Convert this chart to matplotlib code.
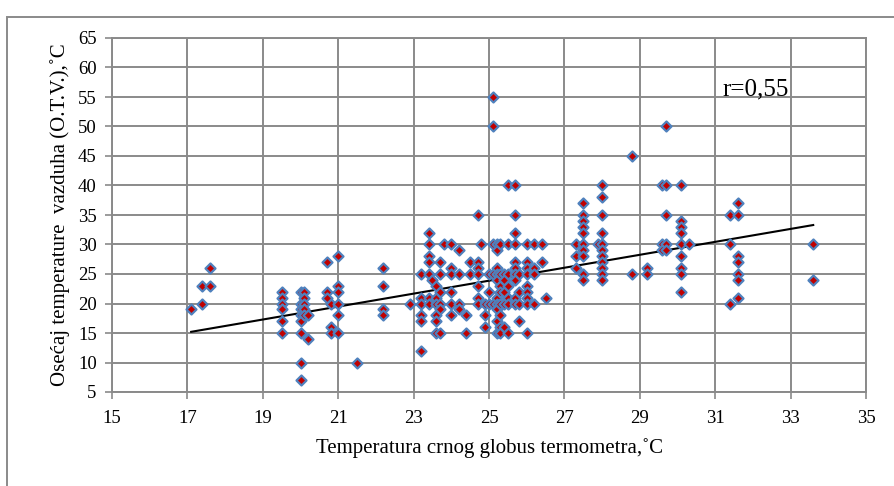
import matplotlib
matplotlib.use("Agg")
import matplotlib.pyplot as plt
from matplotlib.patches import Rectangle

plt.rcParams['font.family'] = ['Liberation Serif', 'DejaVu Serif']

# Globe thermometer temperature (x) and perceived air temperature O.T.V. (y)
globe_temp = (
    [17.1] + [17.4]*2 + [17.6]*2 + [19.5]*6 + [20.0]*8 + [20.1]*5 + [20.2]*2
    + [20.7]*3 + [20.8]*3 + [21.0]*6 + [21.5] + [22.2]*4 + [22.9]
    + [23.2]*6 + [23.4]*7 + [23.5] + [23.6]*6 + [23.7]*6 + [23.8]
    + [24.0]*6 + [24.2]*4 + [24.4]*2 + [24.5]*2 + [24.7]*7 + [24.8]
    + [24.9]*3 + [25.0]*3 + [25.1]*5 + [25.2]*10 + [25.3]*8 + [25.4]*5
    + [25.5]*7 + [25.7]*10 + [25.8]*4 + [26.0]*9 + [26.2]*4 + [26.4]*2
    + [26.5] + [27.3]*3 + [27.5]*10 + [27.9] + [28.0]*11 + [28.8]*2
    + [29.2]*2 + [29.6]*3 + [29.7]*5 + [30.1]*9 + [30.3] + [31.4]*3
    + [31.6]*7 + [33.6]*2
)
otv = (
    [19] + [23, 20] + [26, 23] + [22, 21, 20, 19, 17, 15]
    + [22, 20, 19, 18, 17, 15, 10, 7] + [22, 21, 20, 19, 18] + [18, 14]
    + [27, 22, 21] + [20, 16, 15] + [28, 23, 22, 20, 18, 15] + [10]
    + [26, 23, 19, 18] + [20]
    + [25, 21, 20, 18, 17, 12] + [32, 30, 28, 27, 25, 21, 20] + [24]
    + [23, 21, 20, 18, 17, 15] + [27, 25, 22, 20, 19, 15] + [30]
    + [30, 26, 25, 22, 20, 18] + [29, 25, 20, 19] + [18, 15] + [27, 25]
    + [35, 27, 26, 25, 23, 21, 20] + [30]
    + [20, 18, 16] + [25, 22, 20] + [55, 50, 30, 25, 20]
    + [30, 29, 26, 25, 24, 21, 20, 19, 17, 15]
    + [30, 25, 23, 22, 20, 18, 16, 15] + [25, 24, 22, 20, 16]
    + [40, 30, 25, 23, 21, 20, 15] + [40, 35, 32, 30, 27, 26, 25, 24, 21, 20]
    + [25, 22, 20, 17] + [30, 27, 26, 25, 23, 22, 21, 20, 15]
    + [30, 26, 25, 20] + [30, 27]
    + [21] + [30, 28, 26] + [37, 35, 34, 33, 32, 30, 29, 28, 25, 24] + [30]
    + [40, 38, 35, 32, 30, 29, 28, 27, 26, 25, 24] + [45, 25]
    + [26, 25] + [40, 30, 29] + [50, 40, 35, 30, 29]
    + [40, 34, 33, 32, 30, 28, 26, 25, 22] + [30] + [35, 30, 20]
    + [37, 35, 28, 27, 25, 24, 21] + [30, 24]
)

# Linear trend line end points
trend_x = [17.1, 33.6]
trend_y = [15.2, 33.3]

x_ticks = [15, 17, 19, 21, 23, 25, 27, 29, 31, 33, 35]
y_ticks = [5, 10, 15, 20, 25, 30, 35, 40, 45, 50, 55, 60, 65]

x_label = "Temperatura crnog globus termometra,˚C"
y_label = "Osećaj temperature  vazduha (O.T.V.),˚C"
r_text = "r=0,55"

fig = plt.figure(figsize=(8.94, 4.86), dpi=100)
ax = fig.add_axes([112/894, 1 - 392/486, (866 - 112)/894, (392 - 38)/486])

grid_col = '#8a8a8a'
ax.set_xlim(15, 35)
ax.set_ylim(5, 65)
ax.set_xticks(x_ticks)
ax.set_yticks(y_ticks)
ax.grid(True, color=grid_col, linewidth=1.4)
ax.set_axisbelow(True)
for s in ax.spines.values():
    s.set_color(grid_col)
    s.set_linewidth(1.4)
ax.tick_params(axis='both', direction='out', length=5, width=1.2,
               color=grid_col, labelsize=13.5, labelcolor='black')
ax.tick_params(axis='x', pad=8)
ax.tick_params(axis='y', pad=6)

ax.plot(trend_x, trend_y, color='black', linewidth=1.5, zorder=3)
ax.scatter(globe_temp, otv, marker='D', s=26, facecolor='#C00000',
           edgecolor='#4F81BD', linewidth=1.6, zorder=4)

ax.set_xlabel(x_label, fontsize=15, labelpad=8)
ax.set_ylabel(y_label, fontsize=15, labelpad=6)
ax.text(31.2, 55.3, r_text, fontsize=18, ha='left', va='baseline')

fig.patches.append(Rectangle((7/894, -0.1), 2.0, 1 - 17/486 + 0.1,
                             transform=fig.transFigure, fill=False,
                             edgecolor='#8a8a8a', linewidth=1.4))

fig.savefig("out.png", dpi=100)
